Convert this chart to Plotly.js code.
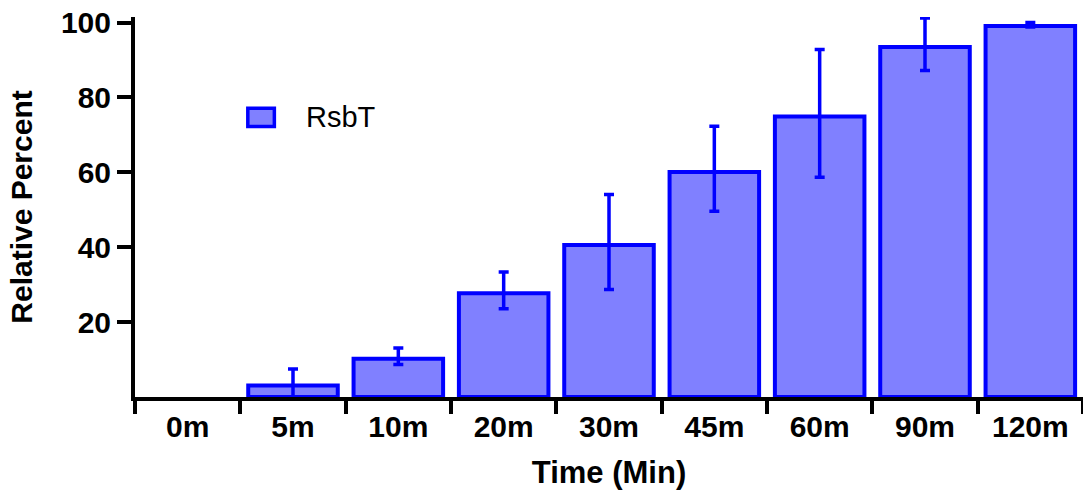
<!DOCTYPE html>
<html>
<head>
<meta charset="utf-8">
<script src="https://cdn.plot.ly/plotly-3.0.1.min.js"></script>
<style>html,body{margin:0;padding:0;background:#fff}#chart{width:1083px;height:492px}</style>
</head>
<body>
<div id="chart"></div>
<script>
const categories = ["0m", "5m", "10m", "20m", "30m", "45m", "60m", "90m", "120m"];
const seriesName = "RsbT";
const values = [null, 3.1, 10.2, 27.7, 40.6, 60.1, 74.9, 93.5, 99.1];
const errorUp = [null, 4.4, 2.9, 5.7, 13.5, 12.2, 17.9, 7.7, 0.9];
const errorDown = [null, 4.4, 1.5, 4.1, 11.9, 10.5, 16.2, 6.3, 0.3];
const yTickValues = [20, 40, 60, 80, 100];
const xTitle = "Time (Min)";
const yTitle = "Relative Percent";

const FONT = "Liberation Sans, Arial, Helvetica, sans-serif";
const BLUE = "#0000ff";
const FILL = "#8080ff";

const trace = {
  type: "bar",
  x: categories,
  y: values,
  name: seriesName,
  marker: { color: FILL, line: { color: BLUE, width: 4 } },
  error_y: {
    type: "data",
    symmetric: false,
    array: errorUp,
    arrayminus: errorDown,
    color: BLUE,
    thickness: 3.5,
    width: 5
  },
  showlegend: false,
  hoverinfo: "x+y"
};

const layout = {
  width: 1083,
  height: 492,
  margin: { l: 135, r: 0, t: 17, b: 95 },
  paper_bgcolor: "#fff",
  plot_bgcolor: "#fff",
  bargap: 0.15,
  font: { family: FONT, color: "#000" },
  xaxis: {
    type: "category",
    tickson: "boundaries",
    ticks: "outside",
    ticklen: 13,
    tickwidth: 4,
    tickcolor: "#000",
    showline: true,
    linewidth: 4,
    linecolor: "#000",
    showgrid: false,
    zeroline: false,
    tickfont: { family: FONT, size: 30, color: "#000", weight: "bold" },
    title: { text: "<b>" + xTitle + "</b>", font: { family: FONT, size: 31, color: "#000" }, standoff: 20 }
  },
  yaxis: {
    range: [0, 101.5],
    tickvals: yTickValues,
    ticktext: yTickValues.map(v => "<b>" + v + "</b>"),
    ticks: "outside",
    ticklen: 14,
    tickwidth: 4,
    tickcolor: "#000",
    showline: true,
    linewidth: 4,
    linecolor: "#000",
    showgrid: false,
    zeroline: false,
    tickfont: { family: FONT, size: 30, color: "#000" },
    title: { text: "<b>" + yTitle + "</b>", font: { family: FONT, size: 30, color: "#000" }, standoff: 20 }
  },
  shapes: [{
    type: "rect", xref: "paper", yref: "paper",
    x0: 0.119, x1: 0.147, y0: 0.712, y1: 0.76,
    fillcolor: FILL, line: { color: BLUE, width: 3.5 }
  }],
  annotations: [{
    xref: "paper", yref: "paper", x: 0.178, y: 0.736,
    xanchor: "left", yanchor: "middle", showarrow: false,
    text: seriesName, font: { family: FONT, size: 29, color: "#000" }
  }]
};

Plotly.newPlot("chart", [trace], layout, { displayModeBar: false, staticPlot: true });
</script>
</body>
</html>
